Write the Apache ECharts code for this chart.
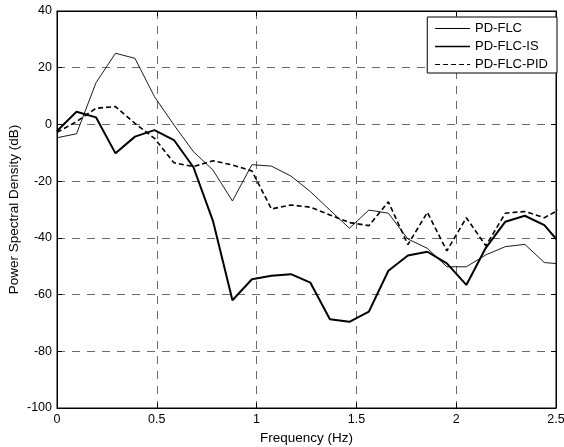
<!DOCTYPE html>
<html>
<head>
<meta charset="utf-8">
<script src="https://cdn.jsdelivr.net/npm/echarts@6/dist/echarts.min.js"></script>
<style>
html,body{margin:0;padding:0;background:#fff;}
#chart{width:564px;height:447px;}
</style>
</head>
<body>
<div id="chart"></div>
<script>
// Frequency samples (Hz)
var freqStep = 0.09766;
var freqIndex = [0,1,2,3,4,5,6,7,8,9,10,11,12,13,14,15,16,17,18,19,20,21,22,23,24,25,26];
// Power spectral density (dB)
var pdFlc =    [-4.7,-3.3,14.7,25.1,23.3,9.8,-0.2,-9.6,-16.1,-27.0,-14.2,-14.7,-18.2,-23.7,-30.2,-36.6,-30.2,-31.3,-40.4,-43.7,-50.2,-50.2,-46.0,-43.1,-42.3,-48.7,-49.3];
var pdFlcIs =  [-2.3,4.5,2.5,-10.2,-4.3,-2.0,-5.5,-15.1,-34.0,-62.0,-54.6,-53.4,-52.8,-55.8,-68.7,-69.6,-66.0,-51.6,-46.2,-44.9,-49.0,-56.6,-43.5,-34.3,-32.2,-35.5,-43.5];
var pdFlcPid = [-2.8,1.0,5.7,6.3,0.4,-4.9,-13.5,-14.9,-12.8,-14.3,-16.4,-29.8,-28.4,-29.2,-31.9,-34.6,-35.7,-27.3,-42.4,-31.0,-44.6,-32.9,-42.8,-31.3,-30.7,-32.9,-29.2];
var seriesNames = ['PD-FLC','PD-FLC-IS','PD-FLC-PID'];
var xTicks = {min:0, max:2.5, interval:0.5};
var yTicks = {min:-100, max:40, interval:20};

function pairs(vals){
  return freqIndex.map(function(k,i){ return [k*freqStep, vals[i]]; });
}
var font = 'Liberation Sans, Arial, Helvetica, sans-serif';
var styles = [
  {color:'#000', width:0.9, type:'solid'},
  {color:'#000', width:2, type:'solid'},
  {color:'#000', width:1.6, type:[5,3]}
];
var chart = echarts.init(document.getElementById('chart'), null, {renderer:'canvas'});
var gridLine = {show:true, lineStyle:{color:'#6a6a6a', type:[8,7], width:1}};
chart.setOption({
  animation:false,
  backgroundColor:'#fff',
  textStyle:{fontFamily:font},
  grid:{left:57, right:8, top:11, bottom:39, containLabel:false, outerBoundsMode:'none',
        show:true, borderColor:'#000', borderWidth:1, backgroundColor:'#fff'},
  legend:{
    data:seriesNames.map(function(n,i){
      return {name:n, lineStyle:{color:'#000', width:i===1?1.6:1, type:styles[i].type}};
    }),
    orient:'vertical', right:7, top:17,
    backgroundColor:'#fff', borderColor:'#000', borderWidth:1,
    padding:[5,9,2,7], itemWidth:35, itemHeight:13, itemGap:5,
    itemStyle:{opacity:0},
    textStyle:{fontFamily:font, fontSize:13, color:'#000'}
  },
  xAxis:[{
    type:'value', min:xTicks.min, max:xTicks.max, interval:xTicks.interval,
    name:'Frequency (Hz)', nameLocation:'middle', nameGap:23, nameMoveOverlap:false,
    nameTextStyle:{fontFamily:font, fontSize:13.5, color:'#000'},
    axisLine:{show:true, onZero:false, lineStyle:{color:'#000', width:1}},
    axisTick:{show:true, inside:true, length:5, lineStyle:{color:'#000'}},
    axisLabel:{show:true, fontFamily:font, fontSize:12.5, color:'#000', margin:5,
      formatter:function(v){return String(v);}},
    splitLine:gridLine
  },{
    type:'value', position:'top', min:xTicks.min, max:xTicks.max, interval:xTicks.interval,
    axisLine:{show:true, onZero:false, lineStyle:{color:'#000'}},
    axisTick:{show:true, inside:true, length:5, lineStyle:{color:'#000'}},
    axisLabel:{show:false}, splitLine:{show:false}
  }],
  yAxis:[{
    type:'value', min:yTicks.min, max:yTicks.max, interval:yTicks.interval,
    name:'Power Spectral Density (dB)', nameLocation:'middle', nameGap:36, nameMoveOverlap:false,
    nameTextStyle:{fontFamily:font, fontSize:13.5, color:'#000'},
    axisLine:{show:true, onZero:false, lineStyle:{color:'#000', width:1}},
    axisTick:{show:true, inside:true, length:5, lineStyle:{color:'#000'}},
    axisLabel:{show:true, fontFamily:font, fontSize:12.5, color:'#000', margin:5},
    splitLine:gridLine
  },{
    type:'value', position:'right', min:yTicks.min, max:yTicks.max, interval:yTicks.interval,
    axisLine:{show:true, onZero:false, lineStyle:{color:'#000'}},
    axisTick:{show:true, inside:true, length:5, lineStyle:{color:'#000'}},
    axisLabel:{show:false}, splitLine:{show:false}
  }],
  series:[
    {name:seriesNames[0], type:'line', data:pairs(pdFlc), symbol:'none', clip:true,
     lineStyle:styles[0], itemStyle:{color:'#000'}, z:3},
    {name:seriesNames[1], type:'line', data:pairs(pdFlcIs), symbol:'none', clip:true,
     lineStyle:styles[1], itemStyle:{color:'#000'}, z:4},
    {name:seriesNames[2], type:'line', data:pairs(pdFlcPid), symbol:'none', clip:true,
     lineStyle:styles[2], itemStyle:{color:'#000'}, z:3}
  ]
});
</script>
</body>
</html>
